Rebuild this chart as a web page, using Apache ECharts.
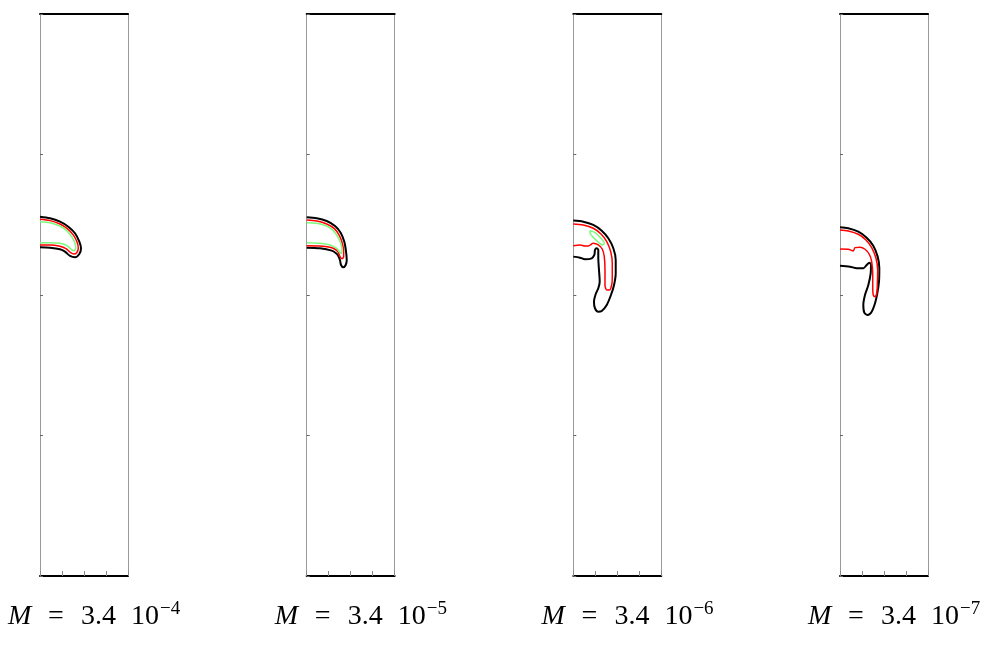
<!DOCTYPE html>
<html><head><meta charset="utf-8">
<script src="https://cdn.jsdelivr.net/npm/echarts@6/dist/echarts.min.js"></script>
<style>html,body{margin:0;padding:0;background:#fff}#c{width:986px;height:646px}</style>
</head><body><div id="c"></div>
<script>
// Panel labels: M = 3.4 10^exp
const mantissa = '3.4';
const exponents = ['−4', '−5', '−6', '−7'];

// Interface contours, [x, y] in domain units (x in [0,1], y in [0,6.4])
const p1Black = [[0,4.092],[0.114,4.074],[0.227,4.035],[0.322,3.978],[0.398,3.903],[0.447,3.808],[0.466,3.732],[0.447,3.667],[0.398,3.630],[0.341,3.645],[0.284,3.694],[0.227,3.721],[0.114,3.739],[0,3.744]];
const p1Red = [[0,4.063],[0.114,4.047],[0.227,4.009],[0.310,3.956],[0.378,3.884],[0.424,3.796],[0.435,3.732],[0.417,3.682],[0.386,3.667],[0.349,3.682],[0.295,3.728],[0.227,3.755],[0.114,3.770],[0,3.770]];
const p1Green = [[0,4.035],[0.114,4.024],[0.227,3.986],[0.303,3.933],[0.360,3.865],[0.398,3.789],[0.406,3.732],[0.386,3.705],[0.360,3.713],[0.310,3.759],[0.227,3.789],[0.114,3.796],[0,3.796]];

const p2Black = [[0,4.085],[0.114,4.074],[0.227,4.043],[0.322,3.986],[0.386,3.910],[0.427,3.808],[0.447,3.694],[0.455,3.599],[0.443,3.542],[0.416,3.516],[0.390,3.542],[0.378,3.599],[0.359,3.645],[0.333,3.675],[0.284,3.705],[0.151,3.732],[0,3.739]];
const p2Red = [[0,4.055],[0.114,4.043],[0.227,4.009],[0.314,3.956],[0.370,3.880],[0.405,3.789],[0.420,3.694],[0.420,3.637],[0.401,3.614],[0.378,3.637],[0.359,3.687],[0.322,3.721],[0.265,3.744],[0.151,3.759],[0,3.762]];
const p2Green = [[0,4.024],[0.114,4.017],[0.227,3.986],[0.302,3.933],[0.352,3.865],[0.386,3.789],[0.401,3.713],[0.393,3.675],[0.370,3.694],[0.341,3.732],[0.265,3.770],[0.151,3.789],[0,3.796]];

const p3Black = [[0,4.047],[0.114,4.035],[0.227,3.998],[0.323,3.933],[0.398,3.846],[0.455,3.732],[0.482,3.599],[0.482,3.448],[0.463,3.314],[0.428,3.200],[0.380,3.087],[0.323,3.018],[0.284,3.010],[0.246,3.049],[0.235,3.124],[0.255,3.212],[0.284,3.277],[0.300,3.352],[0.292,3.485],[0.284,3.618],[0.284,3.713],[0.266,3.732],[0.247,3.713],[0.239,3.656],[0.209,3.618],[0.133,3.607],[0.076,3.625],[0,3.637]];
const p3Red = [[0,4.009],[0.114,3.998],[0.227,3.960],[0.315,3.895],[0.380,3.808],[0.425,3.694],[0.443,3.561],[0.443,3.409],[0.436,3.314],[0.409,3.257],[0.380,3.257],[0.360,3.314],[0.360,3.485],[0.352,3.637],[0.330,3.721],[0.284,3.770],[0.227,3.789],[0.170,3.759],[0.133,3.759],[0.076,3.770],[0,3.762]];
const p3Green = [[0.190,3.933],[0.247,3.910],[0.303,3.858],[0.352,3.789],[0.330,3.770],[0.278,3.808],[0.217,3.865],[0.190,3.910],[0.190,3.933]];

const p4Black = [[0,3.971],[0.094,3.960],[0.208,3.921],[0.303,3.853],[0.378,3.762],[0.428,3.637],[0.447,3.505],[0.443,3.352],[0.424,3.220],[0.398,3.106],[0.360,3.010],[0.315,2.973],[0.276,2.999],[0.265,3.087],[0.284,3.200],[0.322,3.314],[0.349,3.448],[0.352,3.542],[0.333,3.568],[0.303,3.542],[0.265,3.505],[0.190,3.505],[0.114,3.523],[0,3.534]];
const p4Red = [[0,3.941],[0.094,3.929],[0.208,3.892],[0.295,3.827],[0.360,3.739],[0.409,3.618],[0.428,3.485],[0.424,3.314],[0.417,3.220],[0.398,3.181],[0.378,3.200],[0.372,3.277],[0.372,3.428],[0.360,3.580],[0.333,3.664],[0.284,3.721],[0.227,3.744],[0.170,3.739],[0.151,3.702],[0.094,3.721],[0,3.724]];
const p4Green = [];

const panels = [
  {black: p1Black, red: p1Red, green: p1Green},
  {black: p2Black, red: p2Red, green: p2Green},
  {black: p3Black, red: p3Red, green: p3Green},
  {black: p4Black, red: p4Red, green: p4Green}
];

const lefts = [40, 306.7, 573.3, 840];
const grids = [], xAxes = [], yAxes = [], series = [], graphics = [];
const hidden = {show: false};
lefts.forEach((l, i) => {
  grids.push({left: l, top: 14, width: 88, height: 562});
  xAxes.push({gridIndex: i, type: 'value', min: 0, max: 1, interval: 0.25, position: 'bottom',
    axisLine: {show: true, onZero: false, lineStyle: {color: '#000', width: 2}},
    axisTick: {show: true, inside: true, length: 5, lineStyle: {color: '#888', width: 1}},
    axisLabel: hidden, splitLine: hidden});
  xAxes.push({gridIndex: i, type: 'value', min: 0, max: 1, interval: 0.25, position: 'top',
    axisLine: {show: true, onZero: false, lineStyle: {color: '#000', width: 2}},
    axisTick: hidden, axisLabel: hidden, splitLine: hidden});
  yAxes.push({gridIndex: i, type: 'value', min: 0, max: 6.4, interval: 1.6, position: 'left',
    axisLine: {show: true, onZero: false, lineStyle: {color: '#999', width: 1}},
    axisTick: {show: true, inside: true, length: 3, lineStyle: {color: '#666', width: 1}},
    axisLabel: hidden, splitLine: hidden});
  yAxes.push({gridIndex: i, type: 'value', min: 0, max: 6.4, interval: 1.6, position: 'right',
    axisLine: {show: true, onZero: false, lineStyle: {color: '#999', width: 1}},
    axisTick: hidden, axisLabel: hidden, splitLine: hidden});
  const p = panels[i];
  const mk = (data, color, width, z) => ({
    type: 'line', xAxisIndex: 2 * i, yAxisIndex: 2 * i, data: data, symbol: 'none',
    smooth: 0.3, lineStyle: {color: color, width: width}, z: z, silent: true
  });
  series.push(mk(p.black, '#000', 2, 2));
  series.push(mk(p.red, '#ff0000', 1.5, 3));
  if (p.green.length) series.push(mk(p.green, '#7dfa7d', 1.5, 4));

  const ox = 8 + i * 266.7;
  const f = '"Liberation Serif", "DejaVu Serif", serif';
  graphics.push({type: 'group', left: ox, top: 600, children: [
    {type: 'text', x: 0, y: 31, style: {text: 'M', font: 'italic 28px ' + f, fill: '#000', verticalAlign: 'middle'}},
    {type: 'text', x: 40, y: 31, style: {text: '=', font: '28px ' + f, fill: '#000', verticalAlign: 'middle'}},
    {type: 'text', x: 73, y: 31, style: {text: mantissa, font: '28px ' + f, fill: '#000', verticalAlign: 'middle'}},
    {type: 'text', x: 123, y: 31, style: {text: '10', font: '28px ' + f, fill: '#000', verticalAlign: 'middle'}},
    {type: 'text', x: 152, y: 24, style: {text: exponents[i], font: '19px ' + f, fill: '#000', verticalAlign: 'middle'}}
  ]});
});

const chart = echarts.init(document.getElementById('c'));
chart.setOption({
  animation: false,
  grid: grids, xAxis: xAxes, yAxis: yAxes, series: series, graphic: graphics
});
</script></body></html>
